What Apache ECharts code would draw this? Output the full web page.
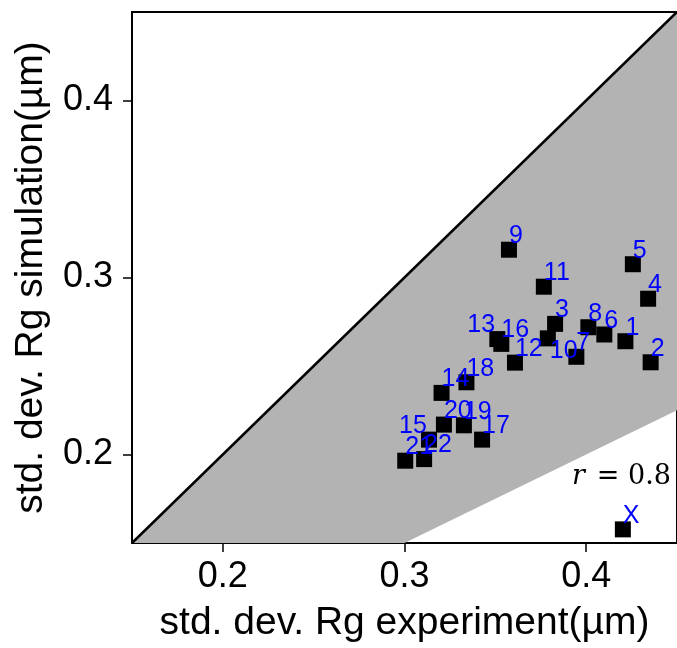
<!DOCTYPE html>
<html><head><meta charset="utf-8">
<script src="https://cdn.jsdelivr.net/npm/echarts@6/dist/echarts.min.js"></script>
<style>html,body{margin:0;padding:0;background:#fff}#c{width:677px;height:648px}</style>
</head><body><div id="c"></div>
<script>
const pointNames = ['1','2','3','4','5','6','7','8','9','10','11','12','13','14','15','16','17','18','19','20','21','22','X'];
const expValues = [0.4216,0.4355,0.3829,0.4341,0.4257,0.4100,0.3946,0.4012,0.3575,0.3789,0.3767,0.3608,0.3511,0.3204,0.3135,0.3533,0.3427,0.3341,0.3327,0.3217,0.3004,0.3108,0.4202];
const simValues = [0.2640,0.2521,0.2738,0.2880,0.3075,0.2678,0.2552,0.2719,0.3157,0.2656,0.2948,0.2519,0.2652,0.2348,0.2084,0.2625,0.2084,0.2408,0.2165,0.2169,0.1965,0.1974,0.1577];
const xTicks = [0.2, 0.3, 0.4];
const yTicks = [0.2, 0.3, 0.4];
const axisMin = 0.15, axisMax = 0.45;
const identityLine = [[0.15, 0.15], [0.45, 0.45]];
const shadedRegion = [[0.15, 0.15], [0.45, 0.45], [0.45, 0.225], [0.3, 0.15]];
const correlationValue = '0.8';
const xTitle = 'std. dev. Rg experiment(µm)';
const yTitle = 'std. dev. Rg simulation(µm)';

// label placement tweaks (style only)
const labelShift = { '10': [2, 26], '13': [-30, 0], '15': [-30, 0] };

const FONT = '"Liberation Sans", Arial, Helvetica, sans-serif';
const chart = echarts.init(document.getElementById('c'));

const scatterData = expValues.map((x, i) => {
  const s = labelShift[pointNames[i]] || [0, 0];
  return {
    value: [x, simValues[i]],
    name: pointNames[i],
    label: { offset: [0 + s[0], -1 + s[1]] }
  };
});

const axisCommon = {
  type: 'value', min: axisMin, max: axisMax,
  splitLine: { show: false },
  axisLine: { show: true, onZero: false, lineStyle: { color: '#000', width: 2 } }
};

chart.setOption({
  animation: false,
  backgroundColor: '#fff',
  grid: { left: 132, top: 12, width: 548, height: 534 },
  xAxis: [
    Object.assign({}, axisCommon, {
      position: 'bottom',
      axisTick: { show: true, customValues: xTicks, length: 9, inside: false, lineStyle: { color: '#000', width: 1.5 } },
      axisLabel: { customValues: xTicks, fontSize: 36, color: '#000', fontFamily: FONT, margin: 16, formatter: v => v.toFixed(1) },
      name: xTitle, nameLocation: 'middle', nameGap: 61,
      nameTextStyle: { fontSize: 39, color: '#000', fontFamily: FONT }
    }),
    Object.assign({}, axisCommon, { position: 'top', axisTick: { show: false }, axisLabel: { show: false } })
  ],
  yAxis: [
    Object.assign({}, axisCommon, {
      position: 'left',
      axisTick: { show: true, customValues: yTicks, length: 9, inside: false, lineStyle: { color: '#000', width: 1.5 } },
      axisLabel: { customValues: yTicks, fontSize: 36, color: '#000', fontFamily: FONT, margin: 19, formatter: v => v.toFixed(1) },
      name: yTitle, nameLocation: 'middle', nameGap: 81,
      nameTextStyle: { fontSize: 39, color: '#000', fontFamily: FONT }
    }),
    Object.assign({}, axisCommon, { position: 'right', axisTick: { show: false }, axisLabel: { show: false } })
  ],
  series: [
    {
      type: 'custom', coordinateSystem: 'cartesian2d', silent: true, z: 1,
      data: [shadedRegion[0]],
      renderItem: (params, api) => ({
        type: 'polygon',
        shape: { points: shadedRegion.map(p => api.coord(p)) },
        style: { fill: '#b3b3b3' }
      })
    },
    {
      type: 'line', data: identityLine, symbol: 'none', z: 2, silent: true,
      lineStyle: { color: '#000', width: 2.5 }
    },
    {
      type: 'scatter', data: scatterData, symbol: 'rect', symbolSize: 16, z: 3,
      itemStyle: { color: '#000', opacity: 1 },
      label: {
        show: true, position: 'inside', formatter: p => p.name,
        align: 'left', verticalAlign: 'bottom',
        fontSize: 25, lineHeight: 25, color: '#0000ff', fontFamily: FONT
      }
    }
  ],
  graphic: [
    { type: 'text', x: 572, y: 490, style: { text: 'r', font: 'italic 27px "DejaVu Serif"', fill: '#000', align: 'left', verticalAlign: 'bottom' } },
    { type: 'text', x: 671, y: 490, style: { text: '= ' + correlationValue, font: '27px "DejaVu Serif"', fill: '#000', align: 'right', verticalAlign: 'bottom' } }
  ]
});
</script>
</body></html>
